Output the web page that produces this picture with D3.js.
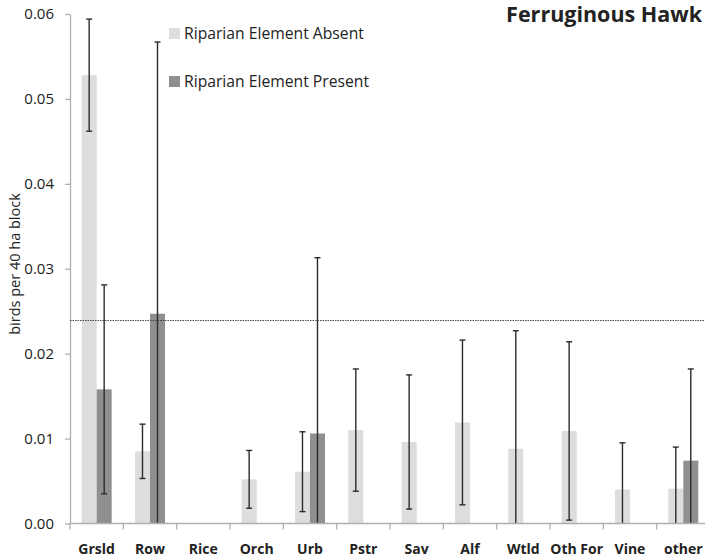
<!DOCTYPE html>
<meta charset="utf-8">
<style>
body { margin: 0; background: #fff; }
text { font-family: "Open Sans", sans-serif; fill: #222; }
.axis path, .axis line { stroke: #b0b0b0; stroke-width: 1.3px; }
.axis text { font-size: 15px; }
.err { stroke: #2b2b2b; stroke-width: 1.4px; }
</style>
<body>
<script src="https://cdn.jsdelivr.net/npm/d3@7"></script>
<script>
// categories and values
var categories = ["Grsld", "Row", "Rice", "Orch", "Urb", "Pstr", "Sav", "Alf", "Wtld", "Oth For", "Vine", "other"];
var absent      = [0.0528, 0.0085, null, 0.0052, 0.0061, 0.0110, 0.0096, 0.0119, 0.0088, 0.0109, 0.0040, 0.0041];
var absentErr   = [0.0066, 0.0032, null, 0.0034, 0.0047, 0.0072, 0.0079, 0.0097, 0.0139, 0.0105, 0.0055, 0.0049];
var present     = [0.0158, 0.0247, null, null, 0.0106, null, null, null, null, null, null, 0.0074];
var presentErr  = [0.0123, 0.0320, null, null, 0.0207, null, null, null, null, null, null, 0.0108];
var yTicks = [0, 0.01, 0.02, 0.03, 0.04, 0.05, 0.06];
var refLine = 0.0239;
var seriesNames = ["Riparian Element  Absent", "Riparian Element  Present"];
var colors = ["#dcdddf", "#8e8f91"];

var width = 705, height = 557;
var margin = {top: 14, left: 70, bottom: 33};

var svg = d3.select("body").append("svg")
    .attr("width", width)
    .attr("height", height);

var x = d3.scaleBand().domain(categories).range([margin.left, margin.left + 53.33 * 12]);
var y = d3.scaleLinear().domain([0, 0.06]).range([height - margin.bottom - 0.5, margin.top]);

var groupW = x.bandwidth() * 0.5625;
var x1 = d3.scaleBand().domain([0, 1]).range([(x.bandwidth() - groupW) / 2, (x.bandwidth() + groupW) / 2]);

// y axis
svg.append("g")
    .attr("class", "axis")
    .attr("transform", "translate(" + margin.left + ",0)")
    .call(d3.axisLeft(y).tickValues(yTicks).tickFormat(d3.format(".2f")).tickSize(5).tickPadding(11).tickSizeOuter(0));

// x axis ticks + labels
var xAxis = svg.append("g")
    .attr("class", "axis xaxis")
    .attr("transform", "translate(0," + y(0) + ")");
xAxis.selectAll(".tk").data(categories).enter().append("line")
    .attr("x1", function(d) { return x(d); })
    .attr("x2", function(d) { return x(d); })
    .attr("y1", 0).attr("y2", 6);
xAxis.selectAll("text").data(categories).enter().append("text")
    .attr("x", function(d) { return x(d) + x.bandwidth() / 2; })
    .attr("y", 30)
    .attr("text-anchor", "middle")
    .style("font-weight", "bold")
    .style("font-size", "14px")
    .text(function(d) { return d; });

// bars
var series = [
  {vals: absent, errs: absentErr},
  {vals: present, errs: presentErr}
];
series.forEach(function(s, si) {
  var data = categories.map(function(c, i) { return {cat: c, v: s.vals[i], e: s.errs[i]}; })
      .filter(function(d) { return d.v != null; });
  svg.append("g").selectAll("rect").data(data).enter().append("rect")
      .attr("x", function(d) { return x(d.cat) + x1(si); })
      .attr("width", x1.bandwidth())
      .attr("y", function(d) { return y(d.v); })
      .attr("height", function(d) { return y(0) - y(d.v); })
      .attr("fill", colors[si]);

  var eg = svg.append("g").selectAll("g").data(data).enter().append("g")
      .attr("transform", function(d) { return "translate(" + (x(d.cat) + x1(si) + x1.bandwidth() / 2) + ",0)"; });
  eg.append("line").attr("class", "err")
      .attr("y1", function(d) { return y(d.v + d.e); })
      .attr("y2", function(d) { return y(Math.max(0, d.v - d.e)); });
  eg.append("line").attr("class", "err")
      .attr("x1", -3).attr("x2", 3)
      .attr("y1", function(d) { return y(d.v + d.e); })
      .attr("y2", function(d) { return y(d.v + d.e); });
  eg.filter(function(d) { return d.v - d.e > 0; })
    .append("line").attr("class", "err")
      .attr("x1", -3).attr("x2", 3)
      .attr("y1", function(d) { return y(d.v - d.e); })
      .attr("y2", function(d) { return y(d.v - d.e); });
});

// x axis line on top of bars
svg.append("line")
    .attr("x1", margin.left).attr("x2", width)
    .attr("y1", y(0)).attr("y2", y(0))
    .attr("stroke", "#b0b0b0").attr("stroke-width", 1.3);

// reference dotted line
svg.append("line")
    .attr("x1", margin.left).attr("x2", width)
    .attr("y1", y(refLine)).attr("y2", y(refLine))
    .attr("stroke", "#444").attr("stroke-width", 1)
    .attr("stroke-dasharray", "1.5,1");

// y axis title
svg.append("text")
    .attr("transform", "translate(20,264) rotate(-90)")
    .attr("text-anchor", "middle")
    .style("font-size", "14.5px")
    .text("birds per 40 ha block");

// title
svg.append("text")
    .attr("x", 702).attr("y", 22)
    .attr("text-anchor", "end")
    .style("font-size", "21.5px")
    .style("font-weight", "bold")
    .text("Ferruginous Hawk");

// legend
var legend = svg.append("g").selectAll("g").data(seriesNames).enter().append("g")
    .attr("transform", function(d, i) { return "translate(169," + (28 + i * 48) + ")"; });
legend.append("rect").attr("width", 11).attr("height", 11)
    .attr("fill", function(d, i) { return colors[i]; });
legend.append("text").attr("x", 15).attr("y", 10.5)
    .style("font-size", "15.7px")
    .text(function(d) { return d; });
</script>
</body>
